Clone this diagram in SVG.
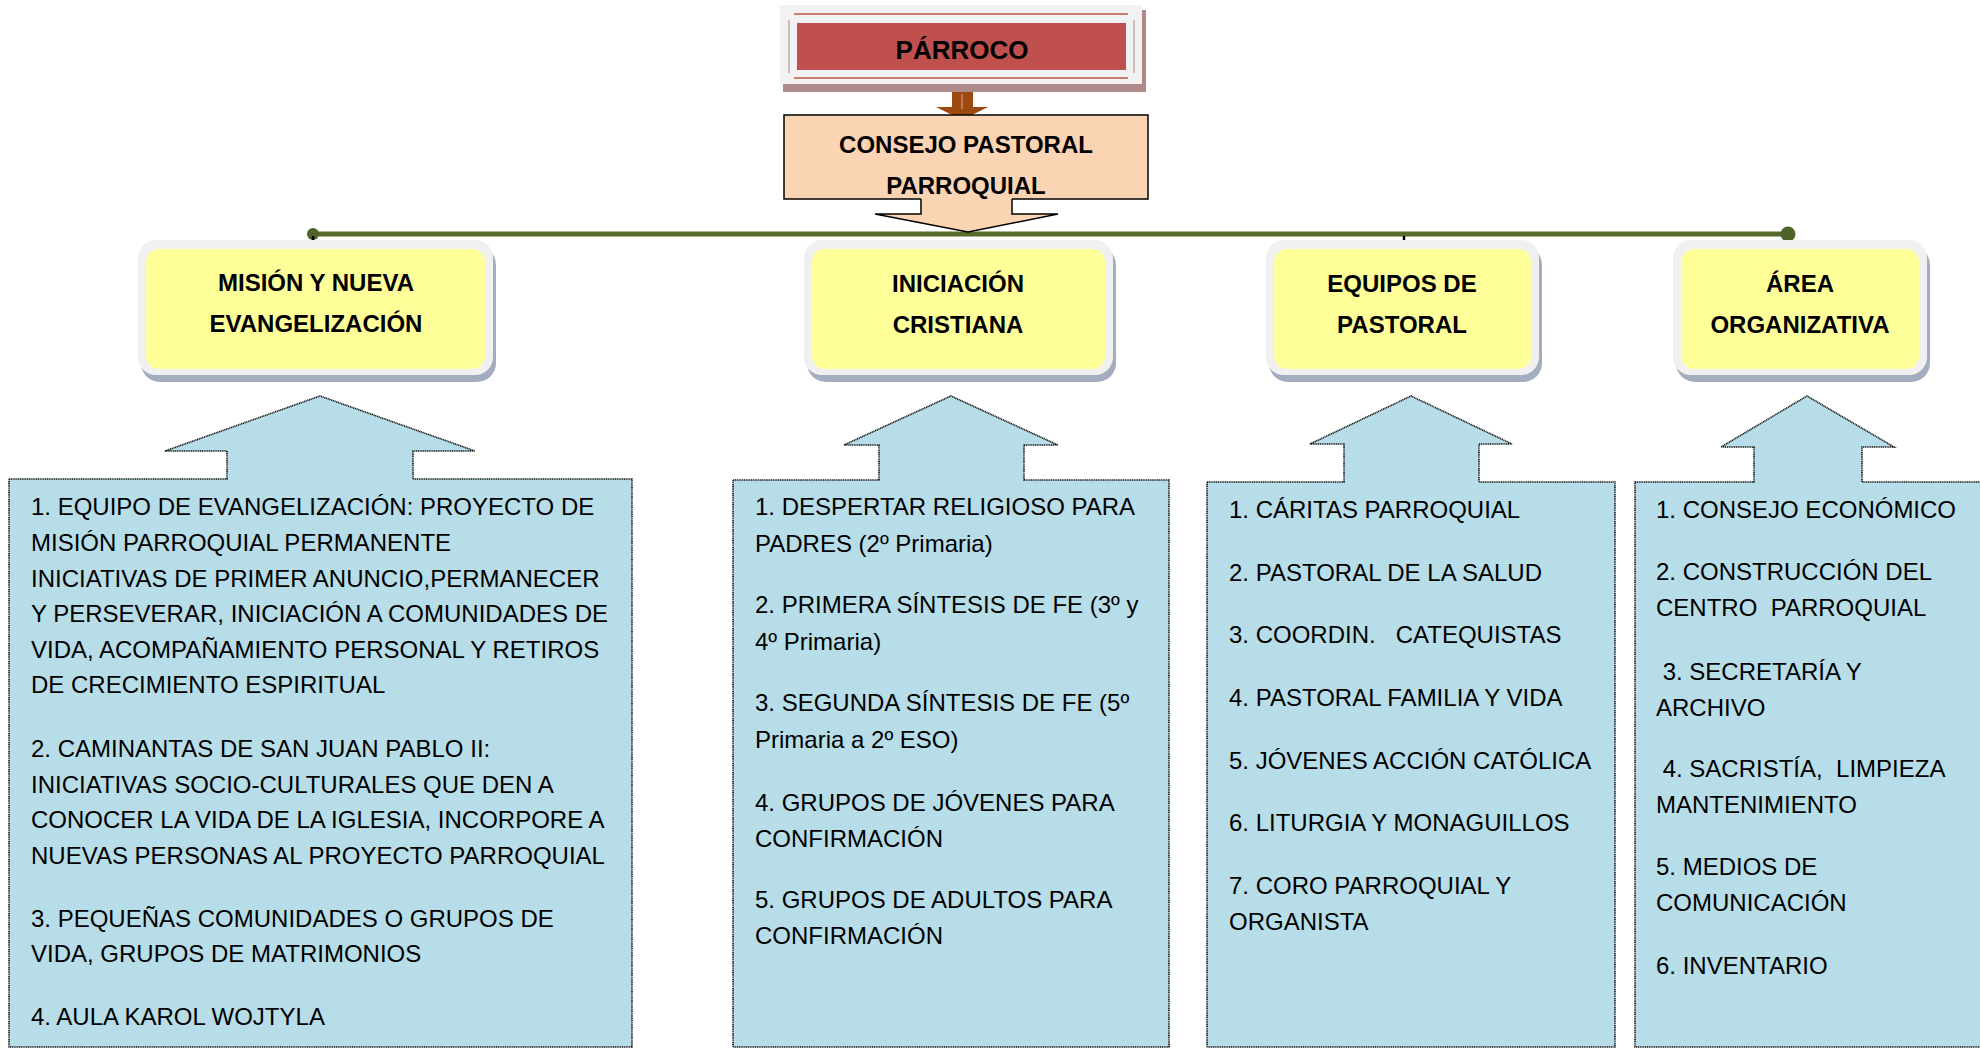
<svg xmlns="http://www.w3.org/2000/svg" width="1980" height="1049" viewBox="0 0 1980 1049">
<style>
.hdr{font-family:"Liberation Sans",Arial,sans-serif;font-weight:bold;font-size:24px;fill:#000;text-anchor:middle}
.body{font-family:"Liberation Sans",Arial,sans-serif;font-size:24px;fill:#000}
.blue{fill:#B7DDE8;stroke:#1a1a1a;stroke-width:1.6;stroke-dasharray:1.2 0.6}
.frame{fill:#F0F0F0}
.shadow{fill:#A3ADBF}
.yellow{fill:#FFFF99}
</style>
<rect width="1980" height="1049" fill="#FFFFFF"/>

<g id="connectors">
  <line x1="313" y1="234" x2="1788" y2="234" stroke="#566B2C" stroke-width="5"/>
  <circle cx="313" cy="234" r="6" fill="#4F6228"/>
  <circle cx="1788" cy="234" r="7.5" fill="#4F6228"/>
  <line x1="313" y1="236" x2="313" y2="245" stroke="#000" stroke-width="2.5"/>
  <line x1="1404" y1="236" x2="1404" y2="243" stroke="#000" stroke-width="2.5"/>
  <polygon points="952,92 973,92 973,107 988,107 962,120 936,107 952,107" fill="#9C4A0F"/>
  <line x1="962" y1="94" x2="962" y2="109" stroke="#E8A0A0" stroke-width="1"/>
</g>

<g id="parroco">
  <rect x="783" y="10" width="363" height="82" fill="#B08A8A"/>
  <rect x="780" y="5" width="362" height="79" fill="#F2F2F2"/>
  <line x1="794" y1="14" x2="1128" y2="14" stroke="#C0504D" stroke-width="1.5"/>
  <line x1="794" y1="78" x2="1128" y2="78" stroke="#C0504D" stroke-width="1.5"/>
  <line x1="789" y1="20" x2="789" y2="73" stroke="#B89A9A" stroke-width="1.2"/>
  <line x1="1134" y1="20" x2="1134" y2="73" stroke="#B89A9A" stroke-width="1.2"/>
  <rect x="797" y="23" width="329" height="47" fill="#C0504D"/>
  <text class="hdr" x="962" y="59" style="font-size:26px">PÁRROCO</text>
</g>

<g id="consejo">
  <rect x="784" y="115" width="364" height="84" fill="#FBD4B4" stroke="#000" stroke-width="1.5"/>
  <polygon points="921,198 921,214 875,214 968,232 1058,214 1012,214 1012,198" fill="#FBD4B4"/>
  <polyline points="921,199 921,214 875,214 968,232 1058,214 1012,214 1012,199" fill="none" stroke="#000" stroke-width="1.5"/>
  <text class="hdr" x="966" y="153">CONSEJO PASTORAL</text>
  <text class="hdr" x="966" y="194">PARROQUIAL</text>
</g>

<g id="mision">
  <rect class="shadow" x="141" y="246" width="355" height="136" rx="19"/>
  <rect class="frame" x="138" y="240" width="355" height="135" rx="18"/>
  <rect class="yellow" x="146" y="249" width="339" height="120" rx="13"/>
  <text class="hdr" x="316" y="291">MISIÓN Y NUEVA</text>
  <text class="hdr" x="316" y="332">EVANGELIZACIÓN</text>
</g>

<g id="iniciacion">
  <rect class="shadow" x="807" y="246" width="309" height="136" rx="19"/>
  <rect class="frame" x="804" y="240" width="309" height="135" rx="18"/>
  <rect class="yellow" x="812" y="249" width="293" height="120" rx="13"/>
  <text class="hdr" x="958" y="292">INICIACIÓN</text>
  <text class="hdr" x="958" y="333">CRISTIANA</text>
</g>

<g id="equipos">
  <rect class="shadow" x="1269" y="246" width="273" height="136" rx="19"/>
  <rect class="frame" x="1266" y="240" width="273" height="135" rx="18"/>
  <rect class="yellow" x="1274" y="249" width="257" height="120" rx="13"/>
  <text class="hdr" x="1402" y="292">EQUIPOS DE</text>
  <text class="hdr" x="1402" y="333">PASTORAL</text>
</g>

<g id="area">
  <rect class="shadow" x="1676" y="246" width="254" height="136" rx="19"/>
  <rect class="frame" x="1673" y="240" width="254" height="135" rx="18"/>
  <rect class="yellow" x="1681" y="249" width="238" height="120" rx="13"/>
  <text class="hdr" x="1800" y="292">ÁREA</text>
  <text class="hdr" x="1800" y="333">ORGANIZATIVA</text>
</g>

<g id="lista-mision">
  <path class="blue" d="M9,479 L227,479 L227,451 L165,451 L320,396 L475,451 L413,451 L413,479 L632,479 L632,1047 L9,1047 Z"/>
  <text class="body" xml:space="preserve">
    <tspan x="31" y="515">1. EQUIPO DE EVANGELIZACIÓN: PROYECTO DE</tspan>
    <tspan x="31" y="551">MISIÓN PARROQUIAL PERMANENTE</tspan>
    <tspan x="31" y="587">INICIATIVAS DE PRIMER ANUNCIO,PERMANECER</tspan>
    <tspan x="31" y="622">Y PERSEVERAR, INICIACIÓN A COMUNIDADES DE</tspan>
    <tspan x="31" y="658">VIDA, ACOMPAÑAMIENTO PERSONAL Y RETIROS</tspan>
    <tspan x="31" y="693">DE CRECIMIENTO ESPIRITUAL</tspan>
    <tspan x="31" y="757">2. CAMINANTAS DE SAN JUAN PABLO II:</tspan>
    <tspan x="31" y="793">INICIATIVAS SOCIO-CULTURALES QUE DEN A</tspan>
    <tspan x="31" y="828">CONOCER LA VIDA DE LA IGLESIA, INCORPORE A</tspan>
    <tspan x="31" y="864">NUEVAS PERSONAS AL PROYECTO PARROQUIAL</tspan>
    <tspan x="31" y="927">3. PEQUEÑAS COMUNIDADES O GRUPOS DE</tspan>
    <tspan x="31" y="962">VIDA, GRUPOS DE MATRIMONIOS</tspan>
    <tspan x="31" y="1025">4. AULA KAROL WOJTYLA</tspan>
  </text>
</g>

<g id="lista-iniciacion">
  <path class="blue" d="M733,480 L879,480 L879,445 L844,445 L951,396 L1058,445 L1024,445 L1024,480 L1169,480 L1169,1047 L733,1047 Z"/>
  <text class="body" xml:space="preserve">
    <tspan x="755" y="515">1. DESPERTAR RELIGIOSO PARA</tspan>
    <tspan x="755" y="552">PADRES (2º Primaria)</tspan>
    <tspan x="755" y="613">2. PRIMERA SÍNTESIS DE FE (3º y</tspan>
    <tspan x="755" y="650">4º Primaria)</tspan>
    <tspan x="755" y="711">3. SEGUNDA SÍNTESIS DE FE (5º</tspan>
    <tspan x="755" y="748">Primaria a 2º ESO)</tspan>
    <tspan x="755" y="811">4. GRUPOS DE JÓVENES PARA</tspan>
    <tspan x="755" y="847">CONFIRMACIÓN</tspan>
    <tspan x="755" y="908">5. GRUPOS DE ADULTOS PARA</tspan>
    <tspan x="755" y="944">CONFIRMACIÓN</tspan>
  </text>
</g>

<g id="lista-equipos">
  <path class="blue" d="M1207,482 L1344,482 L1344,444 L1310,444 L1411,396 L1512,444 L1479,444 L1479,482 L1615,482 L1615,1047 L1207,1047 Z"/>
  <text class="body" xml:space="preserve">
    <tspan x="1229" y="518">1. CÁRITAS PARROQUIAL</tspan>
    <tspan x="1229" y="581">2. PASTORAL DE LA SALUD</tspan>
    <tspan x="1229" y="643">3. COORDIN.   CATEQUISTAS</tspan>
    <tspan x="1229" y="706">4. PASTORAL FAMILIA Y VIDA</tspan>
    <tspan x="1229" y="769">5. JÓVENES ACCIÓN CATÓLICA</tspan>
    <tspan x="1229" y="831">6. LITURGIA Y MONAGUILLOS</tspan>
    <tspan x="1229" y="894">7. CORO PARROQUIAL Y</tspan>
    <tspan x="1229" y="930">ORGANISTA</tspan>
  </text>
</g>

<g id="lista-area">
  <path class="blue" d="M1635,482 L1754,482 L1754,447 L1721,447 L1807,396 L1894,447 L1862,447 L1862,482 L1984,482 L1984,1047 L1635,1047 Z"/>
  <text class="body" xml:space="preserve">
    <tspan x="1656" y="518">1. CONSEJO ECONÓMICO</tspan>
    <tspan x="1656" y="580">2. CONSTRUCCIÓN DEL</tspan>
    <tspan x="1656" y="616">CENTRO  PARROQUIAL</tspan>
    <tspan x="1656" y="680"> 3. SECRETARÍA Y</tspan>
    <tspan x="1656" y="716">ARCHIVO</tspan>
    <tspan x="1656" y="777"> 4. SACRISTÍA,  LIMPIEZA</tspan>
    <tspan x="1656" y="813">MANTENIMIENTO</tspan>
    <tspan x="1656" y="875">5. MEDIOS DE</tspan>
    <tspan x="1656" y="911">COMUNICACIÓN</tspan>
    <tspan x="1656" y="974">6. INVENTARIO</tspan>
  </text>
</g>
</svg>
